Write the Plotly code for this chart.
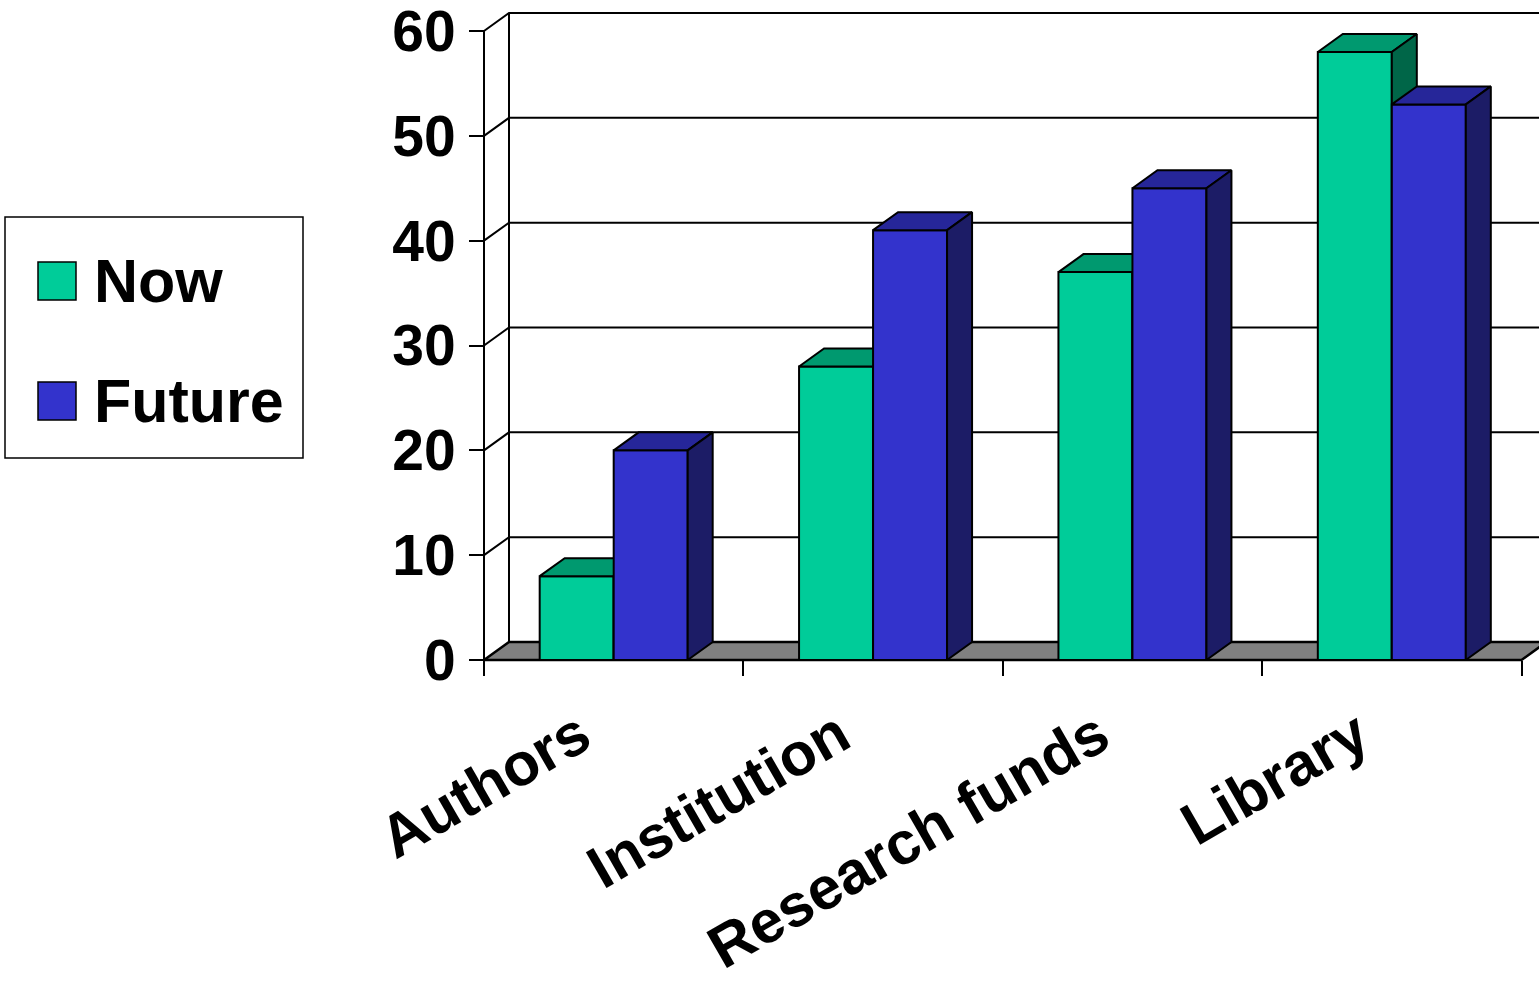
import plotly.graph_objects as go

# ---------------- data ----------------
categories = ["Authors", "Institution", "Research funds", "Library"]
now_values = [8, 28, 37, 58]
future_values = [20, 41, 45, 53]
series_names = ["Now", "Future"]
y_ticks = [0, 10, 20, 30, 40, 50, 60]

# ---------------- geometry ----------------
W, H = 1539, 984
AX_X = 484          # pixel x of the front value axis
AX_Y = 660          # pixel y of the front floor edge
ML = 474            # plot area left (px)
PB = 672            # plot area bottom (px)
PX_PER_X = 259.375  # px per category
PX_PER_Y = 10.4833  # px per value unit
plot_w = W - ML
plot_h = PB
x_min = -(AX_X - ML) / PX_PER_X
x_max = (W - AX_X) / PX_PER_X
y_min = -(PB - AX_Y) / PX_PER_Y
y_max = AX_Y / PX_PER_Y
DX = 25 / PX_PER_X
DY = 18 / PX_PER_Y
BAR_W = 74 / PX_PER_X

now_colors = ("#00CC99", "#00996F", "#006648")
future_colors = ("#3333CC", "#262699", "#1C1C66")
EDGE = "black"
FONT = "Liberation Sans, Arial, sans-serif"


def px2paper_x(px):
    return (px - ML) / plot_w


def px2paper_y(py):
    return (PB - py) / plot_h


fig = go.Figure()


def poly(xs, ys, fill, width=2):
    fig.add_trace(go.Scatter(
        x=xs, y=ys, mode="lines", fill="toself", fillcolor=fill,
        line=dict(color=EDGE, width=width), hoverinfo="skip",
        showlegend=False))


# floor
n = len(categories)
poly([0, n, n + DX, DX, 0], [0, 0, DY, DY, 0], "#808080", width=2.5)

# back-wall gridlines with side-wall diagonals
gx, gy = [], []
for v in y_ticks:
    if v == 0:
        continue
    gx += [0, DX, n + DX, None]
    gy += [v, v + DY, v + DY, None]
# back wall vertical edge
gx += [DX, DX, None]
gy += [DY, y_ticks[-1] + DY, None]
# front value axis line
gx += [0, 0]
gy += [0, y_ticks[-1]]
fig.add_trace(go.Scatter(x=gx, y=gy, mode="lines",
                         line=dict(color=EDGE, width=2),
                         hoverinfo="skip", showlegend=False))

# 3D bars
for i, cat in enumerate(categories):
    c = i + 0.5
    for vals, cols, left in ((now_values, now_colors, c - BAR_W),
                             (future_values, future_colors, c)):
        v = vals[i]
        xl, xr = left, left + BAR_W
        poly([xl, xr, xr, xl, xl], [0, 0, v, v, 0], cols[0])
        poly([xl, xr, xr + DX, xl + DX, xl], [v, v, v + DY, v + DY, v], cols[1])
        poly([xr, xr + DX, xr + DX, xr, xr], [0, DY, v + DY, v, 0], cols[2])

# ---------------- legend (drawn) ----------------
shapes = [dict(type="rect", xref="paper", yref="paper",
               x0=px2paper_x(5), x1=px2paper_x(303),
               y0=px2paper_y(458), y1=px2paper_y(217),
               line=dict(color="black", width=1.5), fillcolor="white")]
annotations = []
for name, cols, top in ((series_names[0], now_colors, 262),
                        (series_names[1], future_colors, 382)):
    shapes.append(dict(type="rect", xref="paper", yref="paper",
                       x0=px2paper_x(38), x1=px2paper_x(76),
                       y0=px2paper_y(top + 38), y1=px2paper_y(top),
                       line=dict(color="black", width=1.5),
                       fillcolor=cols[0]))
    annotations.append(dict(text=name, xref="paper", yref="paper",
                            x=px2paper_x(92), y=px2paper_y(top + 19),
                            xanchor="left", yanchor="middle", showarrow=False,
                            font=dict(family=FONT, size=61, color="black",
                                      weight="bold")))

fig.update_layout(
    width=W, height=H,
    margin=dict(l=ML, r=0, t=0, b=H - PB, pad=0, autoexpand=False),
    paper_bgcolor="white", plot_bgcolor="white",
    showlegend=False,
    shapes=shapes, annotations=annotations,
    xaxis=dict(range=[x_min, x_max], showgrid=False, zeroline=False,
               showline=False, anchor="free", automargin=False,
               position=px2paper_y(AX_Y),
               tickmode="array", tickvals=[i + 0.5 for i in range(n)],
               ticktext=categories, ticks="", tickangle=-30,
               ticklabelshift=-34, ticklabelstandoff=28,
               ticklabeloverflow="allow",
               tickfont=dict(family=FONT, size=60, color="black",
                             weight="bold"),
               minor=dict(tickmode="array", tickvals=list(range(n + 1)),
                          ticks="outside", ticklen=15, tickwidth=2,
                          tickcolor="black", showgrid=False)),
    yaxis=dict(range=[y_min, y_max], showgrid=False, zeroline=False,
               showline=False, anchor="free", automargin=False,
               position=px2paper_x(AX_X),
               tickmode="array", tickvals=y_ticks, ticks="outside",
               ticklen=15, tickwidth=2, tickcolor="black",
               ticklabelstandoff=2, ticklabeloverflow="allow",
               tickfont=dict(family=FONT, size=57, color="black",
                             weight="bold")),
)

fig.write_html("out.html",
               config={"displayModeBar": False, "staticPlot": True},
               post_script="document.body.style.margin='0';"
                           "document.body.style.padding='0';")
